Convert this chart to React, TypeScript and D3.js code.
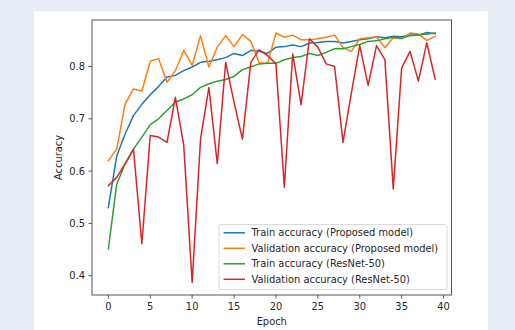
import React from "react";
import * as d3 from "d3";

// accuracy per epoch
const trainProposed = [
  0.530, 0.629, 0.671, 0.706, 0.728, 0.746, 0.762, 0.780, 0.783, 0.792,
  0.799, 0.808, 0.810, 0.813, 0.817, 0.825, 0.821, 0.831, 0.829, 0.825,
  0.837, 0.838, 0.841, 0.838, 0.845, 0.846, 0.848, 0.848, 0.845, 0.848,
  0.851, 0.853, 0.857, 0.855, 0.858, 0.857, 0.860, 0.860, 0.865, 0.863,
];
const valProposed = [
  0.620, 0.642, 0.728, 0.757, 0.753, 0.810, 0.815, 0.770, 0.792, 0.831,
  0.802, 0.859, 0.799, 0.837, 0.859, 0.838, 0.861, 0.848, 0.807, 0.806,
  0.864, 0.856, 0.860, 0.851, 0.851, 0.853, 0.856, 0.860, 0.836, 0.829,
  0.853, 0.855, 0.857, 0.836, 0.855, 0.853, 0.864, 0.862, 0.850, 0.858,
];
const trainResnet = [
  0.451, 0.575, 0.614, 0.642, 0.665, 0.689, 0.700, 0.716, 0.732, 0.738,
  0.746, 0.760, 0.767, 0.772, 0.775, 0.781, 0.794, 0.799, 0.805, 0.806,
  0.806, 0.813, 0.817, 0.819, 0.825, 0.821, 0.827, 0.834, 0.834, 0.838,
  0.842, 0.848, 0.849, 0.853, 0.856, 0.854, 0.859, 0.860, 0.862, 0.864,
];
const valResnet = [
  0.572, 0.588, 0.614, 0.642, 0.461, 0.668, 0.665, 0.655, 0.741, 0.649,
  0.387, 0.661, 0.760, 0.614, 0.808, 0.732, 0.661, 0.808, 0.832, 0.821,
  0.805, 0.569, 0.824, 0.727, 0.853, 0.837, 0.805, 0.800, 0.655, 0.749,
  0.840, 0.764, 0.840, 0.813, 0.566, 0.797, 0.829, 0.772, 0.845, 0.776,
];

const seriesNames = [
  "Train accuracy (Proposed model)",
  "Validation accuracy (Proposed model)",
  "Train accuracy (ResNet-50)",
  "Validation accuracy (ResNet-50)",
];
const seriesColors = ["#1f77b4", "#ff7f0e", "#2ca02c", "#d62728"];
const xTicks = [0, 5, 10, 15, 20, 25, 30, 35, 40];
const yTicks = [0.4, 0.5, 0.6, 0.7, 0.8];

const W = 515;
const H = 330;
const left = 92;
const right = 451.5;
const top = 20;
const bottom = 295;
const font = "'DejaVu Sans', sans-serif";
const fs = 9.9;

const App = () => {
  const series = [trainProposed, valProposed, trainResnet, valResnet];
  const n = trainProposed.length;

  // matplotlib-style 5% margins
  const xPad = (n - 1) * 0.05;
  const x = d3.scaleLinear().domain([-xPad, n - 1 + xPad]).range([left, right]);
  const all = series.flat();
  const lo = d3.min(all);
  const hi = d3.max(all);
  const yPad = (hi - lo) * 0.05;
  const y = d3.scaleLinear().domain([lo - yPad, hi + yPad]).range([bottom, top]);

  const line = d3
    .line<number>()
    .x((_, i) => x(i))
    .y((d) => y(d));

  // legend box
  const lgX = 219;
  const lgY = 224.5;
  const lgW = 228;
  const lgH = 65;
  const rowY = (i) => 232.8 + i * 15.5;

  return (
    <svg
      width={W}
      height={H}
      style={{ position: "absolute", left: 0, top: 0 }}
      fontFamily={font}
    >
      <rect x={0} y={0} width={W} height={H} fill="#e9edf6" />
      <rect x={34} y={11} width={454} height={H - 11} fill="#ffffff" />

      <g fill="none" strokeWidth={1.5} strokeLinejoin="round" strokeLinecap="square">
        {series.map((s, i) => (
          <path key={i} d={line(s)} stroke={seriesColors[i]} />
        ))}
      </g>

      {/* spines */}
      <rect
        x={left}
        y={top}
        width={right - left}
        height={bottom - top}
        fill="none"
        stroke="#444"
        strokeWidth={0.9}
      />

      {/* x axis */}
      <g fontSize={fs} fill="#262626">
        {xTicks.map((t) => (
          <g key={t}>
            <line x1={x(t)} x2={x(t)} y1={bottom} y2={bottom + 3.5} stroke="#444" strokeWidth={0.9} />
            <text x={x(t)} y={bottom + 14.5} textAnchor="middle">
              {t}
            </text>
          </g>
        ))}
        <text x={(left + right) / 2} y={325} textAnchor="middle">
          Epoch
        </text>
      </g>

      {/* y axis */}
      <g fontSize={fs} fill="#262626">
        {yTicks.map((t) => (
          <g key={t}>
            <line x1={left - 3.5} x2={left} y1={y(t)} y2={y(t)} stroke="#444" strokeWidth={0.9} />
            <text x={left - 7} y={y(t)} dy="0.35em" textAnchor="end">
              {t.toFixed(1)}
            </text>
          </g>
        ))}
        <text
          transform={`translate(62,${(top + bottom) / 2}) rotate(-90)`}
          textAnchor="middle"
        >
          Accuracy
        </text>
      </g>

      {/* legend */}
      <rect
        x={lgX}
        y={lgY}
        width={lgW}
        height={lgH}
        rx={2}
        fill="#ffffff"
        fillOpacity={0.8}
        stroke="#d0d0d0"
        strokeWidth={0.8}
      />
      <g fontSize={fs} fill="#262626">
        {seriesNames.map((name, i) => (
          <g key={name}>
            <line
              x1={223.5}
              x2={245}
              y1={rowY(i)}
              y2={rowY(i)}
              stroke={seriesColors[i]}
              strokeWidth={1.5}
            />
            <text x={251.5} y={rowY(i)} dy="0.35em">
              {name}
            </text>
          </g>
        ))}
      </g>
    </svg>
  );
};

export default App;
